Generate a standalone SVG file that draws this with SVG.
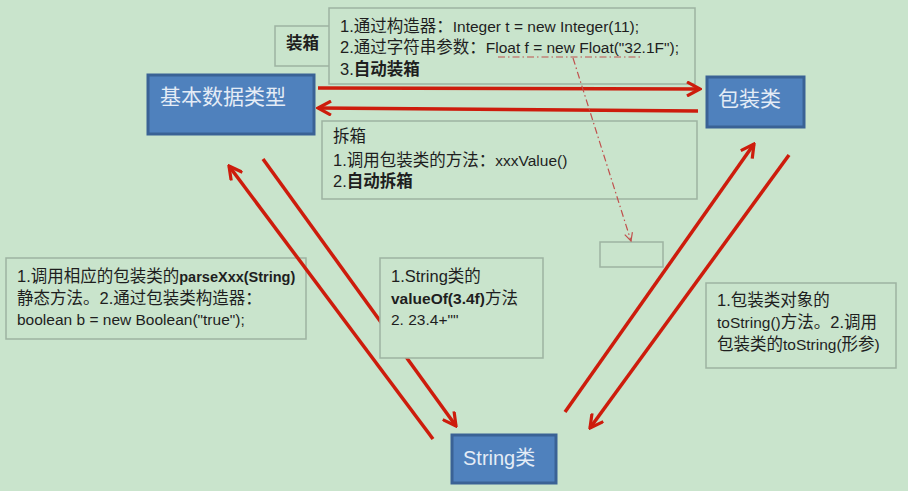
<svg xmlns="http://www.w3.org/2000/svg" width="908" height="491" viewBox="0 0 908 491">
<style>
.bg{fill:#c9e4cc}
.box{fill:#c9e4cc;stroke:#9db3a1;stroke-width:1.5}
.node{fill:#4f81bd;stroke:#3a6295;stroke-width:3}
.nt{font-family:"Liberation Sans","Noto Sans CJK SC",sans-serif;font-size:21px;fill:#e4ecf6}
.t{font-family:"Liberation Sans","Noto Sans CJK SC",sans-serif;font-size:16.5px;fill:#1e1e1e}
.l{font-size:15.5px}
.b{font-weight:bold}
.arr{fill:none;stroke:#cd1c0c;stroke-width:3.5;marker-end:url(#ah)}
.dd{fill:none;stroke:#c0504d;stroke-width:1.2;stroke-dasharray:7 3 1.5 3}
</style>
<defs>
<marker id="ah" markerUnits="userSpaceOnUse" viewBox="0 0 16 16" refX="14" refY="8" markerWidth="16" markerHeight="16" orient="auto">
<path d="M1,1 L14,8 L1,15" fill="none" stroke="#cd1c0c" stroke-width="3.2"/>
</marker>
<marker id="ah2" markerUnits="userSpaceOnUse" viewBox="0 0 10 10" refX="9" refY="5" markerWidth="10" markerHeight="10" orient="auto">
<path d="M1,1 L9,5 L1,9" fill="none" stroke="#c0504d" stroke-width="1.2"/>
</marker>
</defs>
<rect class="bg" x="0" y="0" width="908" height="491"/>

<g id="box-label-boxing">
<rect class="box" x="275" y="26" width="56" height="40"/>
<text class="t b" x="286" y="49">装箱</text>
</g>
<g id="box-boxing">
<rect class="box" x="329" y="8" width="366" height="76"/>
<text class="t" x="340" y="32">1.通过构造器：<tspan class="l">Integer t = new Integer(11);</tspan></text>
<text class="t" x="340" y="53">2.通过字符串参数：<tspan class="l">Float f = new Float("32.1F");</tspan></text>
<text class="t" x="340" y="75">3.<tspan class="b">自动装箱</tspan></text>
</g>
<g id="box-unboxing">
<rect class="box" x="322" y="121" width="375" height="78"/>
<text class="t" x="333" y="142">拆箱</text>
<text class="t" x="333" y="166">1.调用包装类的方法：<tspan class="l">xxxValue()</tspan></text>
<text class="t" x="333" y="187">2.<tspan class="b">自动拆箱</tspan></text>
</g>
<g id="box-parse">
<rect class="box" x="6" y="258" width="300" height="81"/>
<text class="t" x="17" y="282">1.调用相应的包装类的<tspan class="b" style="font-size:14.5px">parseXxx(String)</tspan></text>
<text class="t" x="17" y="304">静态方法。2.通过包装类构造器：</text>
<text class="t" x="17" y="325"><tspan class="l">boolean b = new Boolean("true");</tspan></text>
</g>
<g id="box-tostring">
<rect class="box" x="706" y="283" width="190" height="85"/>
<text class="t" x="717" y="306">1.包装类对象的</text>
<text class="t" x="717" y="328"><tspan class="l">toString()</tspan>方法。2.调用</text>
<text class="t" x="717" y="350">包装类的<tspan class="l">toString(</tspan>形参<tspan class="l">)</tspan></text>
</g>
<g id="box-empty">
<rect class="box" x="600" y="242" width="63" height="25"/>
</g>

<g id="connectors">
<path class="arr" d="M318,88 L700,89"/>
<path class="arr" d="M698,111 L318,108"/>
<path class="arr" d="M433,439 L229,166"/>
<path class="arr" d="M263,159 L456,426"/>
<path class="arr" d="M565,412 L754,144"/>
<path class="arr" d="M789,155 L590,428"/>
<path class="dd" d="M498,57 L640,57"/>
<path class="dd" d="M573,58 L631,241" marker-end="url(#ah2)"/>
</g>

<g id="box-valueof">
<rect class="box" x="380" y="258" width="163" height="100"/>
<text class="t" x="391" y="282">1.String类的</text>
<text class="t" x="391" y="304"><tspan class="b l">valueOf(3.4f)</tspan>方法</text>
<text class="t" x="391" y="325"><tspan class="l">2. 23.4+""</tspan></text>
</g>

<g id="node-primitive">
<rect class="node" x="148" y="75" width="166" height="59"/>
<text class="nt" x="160" y="104">基本数据类型</text>
</g>
<g id="node-wrapper">
<rect class="node" x="707" y="77" width="97" height="50"/>
<text class="nt" x="718" y="106">包装类</text>
</g>
<g id="node-string">
<rect class="node" x="452" y="435" width="104" height="48"/>
<text class="nt" x="463" y="465" style="font-size:20px">String类</text>
</g>
</svg>
